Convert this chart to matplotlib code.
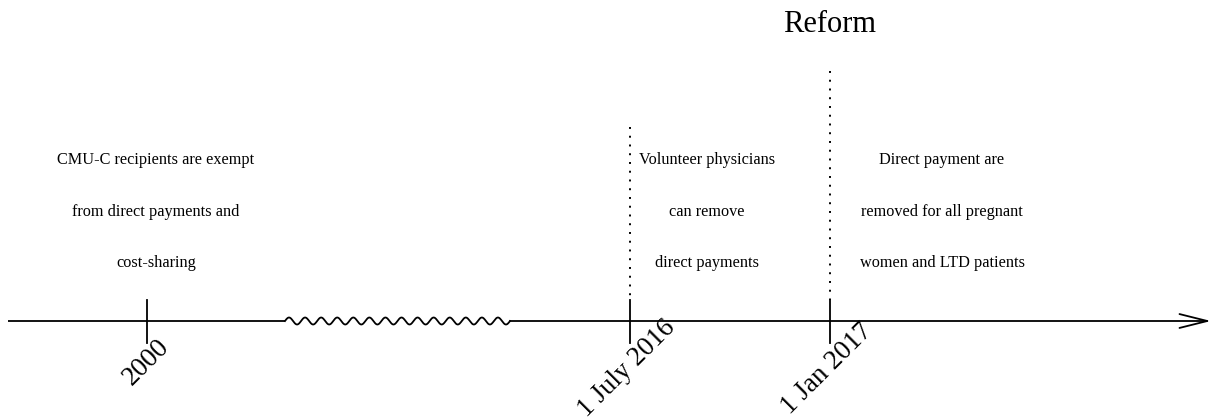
import numpy as np
import matplotlib
matplotlib.use("Agg")
import matplotlib.pyplot as plt

# timeline events (x in pixel-like units of a 1213x420 canvas)
event_x = [147, 630, 830]
event_labels = ["2000", "1 July 2016", "1 Jan 2017"]
dotted_top = [None, 127, 71]
# centre of each rotated date label
label_xy = [(146, 362), (627, 368), (827, 369)]

# descriptive text blocks
block_x = [156, 707, 942]
block_lines = [
    ["CMU-C recipients are exempt", "from direct payments and", "cost-sharing"],
    ["Volunteer physicians", "can remove", "direct payments"],
    ["Direct payment are", "removed for all pregnant", "women and LTD patients"],
]
line_y = [160, 212, 263]

title_text = "Reform"
title_xy = (830, 24)

# axis geometry
axis_y = 321
axis_start, axis_end = 8, 1211
break_start, break_end = 285, 510
tick_up, tick_down = 21, 22

plt.rcParams['font.family'] = ['Liberation Serif', 'DejaVu Serif']

fig = plt.figure(figsize=(12.13, 4.2), dpi=100)
ax = fig.add_axes([0, 0, 1, 1])
ax.set_xlim(0, 1213)
ax.set_ylim(420, 0)
ax.axis('off')

lw = 1.3
# straight pieces of the axis
ax.plot([axis_start, break_start], [axis_y, axis_y], color='black', lw=lw, solid_capstyle='butt')
# wavy break
wx = np.linspace(break_start, break_end, 600)
n_waves = 14
wy = axis_y - 3.5 * np.sin(2 * np.pi * n_waves * (wx - break_start) / (break_end - break_start))
ax.plot(wx, wy, color='black', lw=lw)
# last piece with arrow head
ax.annotate('', xy=(axis_end, axis_y), xytext=(break_end, axis_y),
            arrowprops=dict(arrowstyle='->,head_length=2.0,head_width=0.5', lw=lw,
                            color='black', shrinkA=0, shrinkB=0, mutation_scale=10))

for x, lab, top, (lx, ly) in zip(event_x, event_labels, dotted_top, label_xy):
    ax.plot([x, x], [axis_y - tick_up, axis_y + tick_down], color='black', lw=lw)
    if top is not None:
        ax.plot([x, x], [top, axis_y - tick_up], color='black', lw=1.4,
                linestyle=(0, (1, 3.5)))
    ax.text(lx, ly, lab, rotation=45, rotation_mode='anchor',
            ha='center', va='center', fontsize=19.5)

for bx, lines in zip(block_x, block_lines):
    for ly, t in zip(line_y, lines):
        ax.text(bx, ly, t, ha='center', va='center', fontsize=11.7)

ax.text(title_xy[0], title_xy[1], title_text, ha='center', va='center', fontsize=22)

fig.savefig('out.png', dpi=100)
